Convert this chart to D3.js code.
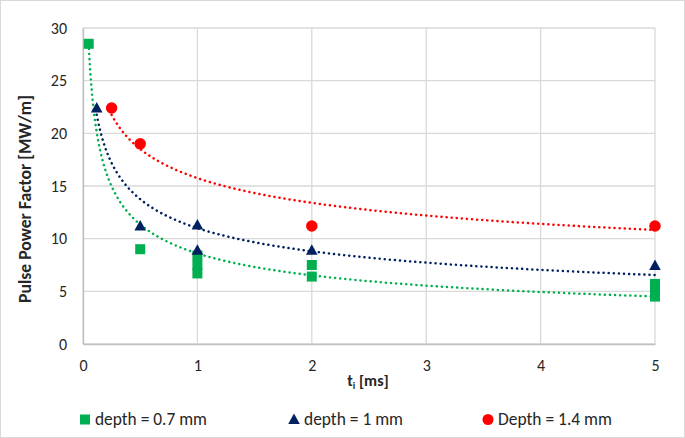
<!DOCTYPE html>
<html><head><meta charset="utf-8">
<script src="https://cdn.jsdelivr.net/npm/d3@7"></script>
<style>
body{margin:0;background:#fff;}
svg{font-family:Carlito, Lato, "Open Sans", sans-serif;}
</style></head>
<body><svg id="c" width="685" height="438"></svg>
<script>
// Data
const seriesNames = ["depth = 0.7 mm", "depth = 1 mm", "Depth = 1.4 mm"];
const seriesColors = ["#00B050", "#002060", "#FF0000"];
const seriesShapes = ["square", "triangle", "circle"];
const depth07X = [0.05, 0.5, 1, 1, 1, 2, 2, 5, 5, 5];
const depth07Y = [28.5, 9.0, 8.4, 7.5, 6.7, 7.5, 6.4, 5.7, 5.1, 4.5];
const depth1X = [0.12, 0.5, 1, 1, 2, 5];
const depth1Y = [22.4, 11.2, 11.3, 8.9, 8.9, 7.45];
const depth14X = [0.25, 0.5, 2, 5];
const depth14Y = [22.4, 19.0, 11.2, 11.2];
// Power trendline (y = a * x^b) coefficients
const trendA = [8.6, 11.0, 15.75];
const trendB = [-0.40, -0.322, -0.233];
const xTicks = [0, 1, 2, 3, 4, 5];
const yTicks = [0, 5, 10, 15, 20, 25, 30];

const seriesX = [depth07X, depth1X, depth14X];
const seriesY = [depth07Y, depth1Y, depth14Y];

const svg = d3.select("#c");
// fit a text element's font size to a target width
function fitWidth(sel, target){
  const n = sel.node();
  const w = n.getComputedTextLength();
  const fs = parseFloat(sel.attr("font-size"));
  if (w > 0) sel.attr("font-size", (fs*target/w).toFixed(2));
}
// chart border
svg.append("rect").attr("x",0.5).attr("y",0.5).attr("width",684).attr("height",437)
  .attr("fill","#fff").attr("stroke","#d9d9d9");

const L = 83, R = 655, T = 28, B = 344;
const x = d3.scaleLinear().domain([0,5]).range([L,R]);
const y = d3.scaleLinear().domain([0,30]).range([B,T]);

// gridlines
svg.append("g").selectAll("line").data(yTicks).join("line")
  .attr("x1",L).attr("x2",R).attr("y1",d=>y(d)).attr("y2",d=>y(d))
  .attr("stroke","#d9d9d9").attr("stroke-width",1.3);
svg.append("g").selectAll("line").data(xTicks).join("line")
  .attr("y1",T).attr("y2",B).attr("x1",d=>x(d)).attr("x2",d=>x(d))
  .attr("stroke","#d9d9d9").attr("stroke-width",1.3);

// axes
const xAxis = svg.append("g").attr("transform",`translate(0,${B})`)
  .call(d3.axisBottom(x).tickValues(xTicks).tickSize(0).tickPadding(16).tickFormat(d3.format("d")));
xAxis.select(".domain").attr("stroke","#bfbfbf").attr("stroke-width",1.3);
const yAxis = svg.append("g").attr("transform",`translate(${L},0)`)
  .call(d3.axisLeft(y).tickValues(yTicks).tickSize(0).tickPadding(16).tickFormat(d3.format("d")));
yAxis.select(".domain").attr("stroke","#bfbfbf").attr("stroke-width",1.3);
svg.selectAll(".tick text").attr("font-size",16).attr("fill","#262626")
  .attr("font-family","Carlito, Lato, sans-serif");

// trendlines
seriesX.forEach((xs,i)=>{
  const x0 = d3.min(xs), x1 = d3.max(xs);
  const pts = d3.range(0,201).map(k=>{const xv = x0*Math.pow(x1/x0,k/200); return [xv, trendA[i]*Math.pow(xv,trendB[i])];});
  svg.append("path").datum(pts)
    .attr("d", d3.line().x(d=>x(d[0])).y(d=>y(d[1])).curve(d3.curveMonotoneX))
    .attr("fill","none").attr("stroke",seriesColors[i]).attr("stroke-width",2.5)
    .attr("stroke-linecap","round").attr("stroke-dasharray","0.1 5");
});

// markers
function marker(g, shape, color, size){
  if(shape==="square") g.append("rect").attr("x",-size/2).attr("y",-size/2).attr("width",size).attr("height",size).attr("fill",color);
  else if(shape==="triangle") g.append("path").attr("d",`M0,${-size*0.6}L${size*0.58},${size*0.45}L${-size*0.58},${size*0.45}Z`).attr("fill",color);
  else g.append("circle").attr("r",size/2).attr("fill",color);
}
seriesX.forEach((xs,i)=>{
  xs.forEach((xv,j)=>{
    const g = svg.append("g").attr("transform",`translate(${x(xv)},${y(seriesY[i][j])})`);
    marker(g, seriesShapes[i], seriesColors[i], i===2?11.5:10);
  });
});

// axis titles
const yt = svg.append("text").attr("transform",`translate(31,199) rotate(-90)`).attr("text-anchor","middle")
  .attr("font-size",16).attr("font-weight","bold").attr("fill","#262626").text("Pulse Power Factor [MW/m]");
fitWidth(yt, 208);
const xt = svg.append("text").attr("x",368).attr("y",386).attr("text-anchor","middle")
  .attr("font-size",16).attr("font-weight","bold").attr("fill","#262626");
xt.append("tspan").text("t");
xt.append("tspan").attr("font-size",10).attr("dy",3).text("i");
xt.append("tspan").attr("dy",-3).text(" [ms]");

// legend
const legX = [85, 294, 488];
const legW = [112, 99, 114];
seriesNames.forEach((n,i)=>{
  const g = svg.append("g").attr("transform",`translate(${legX[i]},419.5)`);
  marker(g, seriesShapes[i], seriesColors[i], i===2?11:10);
  const t = g.append("text").attr("x",10).attr("y",5.5).attr("font-size",16).attr("fill","#262626").text(n);
  fitWidth(t, legW[i]);
});
</script></body></html>
